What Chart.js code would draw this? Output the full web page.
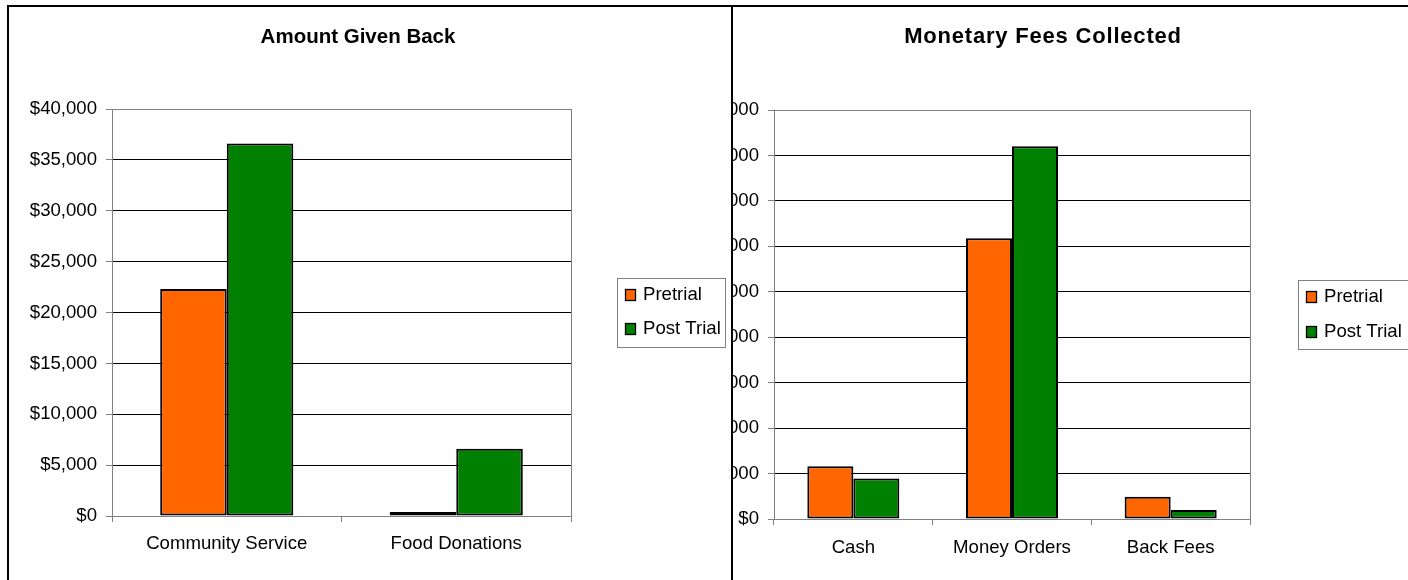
<!DOCTYPE html>
<html>
<head>
<meta charset="utf-8">
<script src="https://cdn.jsdelivr.net/npm/chart.js@4"></script>
<style>
  html, body { margin: 0; padding: 0; background: #fff; }
  body { width: 1408px; height: 580px; position: relative; overflow: hidden; }
  #leftWrap { position: absolute; left: 0; top: 0; width: 731px; height: 580px; overflow: hidden; }
  #rightWrap { position: absolute; left: 733px; top: 0; width: 675px; height: 580px; overflow: hidden; }
  #leftChart { position: absolute; left: 0; top: 0; }
  #rightChart { position: absolute; left: -53px; top: 0; }
  .line { position: absolute; background: #000; z-index: 5; }
</style>
</head>
<body>
<div id="leftWrap"><canvas id="leftChart" width="731" height="580"></canvas></div>
<div id="rightWrap"><canvas id="rightChart" width="728" height="580"></canvas></div>
<div class="line" style="left:7px; top:5px; width:1401px; height:2px;"></div>
<div class="line" style="left:7px; top:5px; width:2px; height:575px;"></div>
<div class="line" style="left:731px; top:5px; width:2px; height:575px;"></div>
<script>
// Amount Given Back
const givenCategories = ['Community Service', 'Food Donations'];
const givenPretrial = [22300, 400];
const givenPostTrial = [36600, 6600];
const givenMax = 40000;
const givenStep = 5000;

// Monetary Fees Collected
const feesCategories = ['Cash', 'Money Orders', 'Back Fees'];
const feesPretrial = [1160, 6180, 490];
const feesPostTrial = [890, 8200, 200];
const feesMax = 9000;
const feesStep = 1000;

const seriesNames = ['Pretrial', 'Post Trial'];
const seriesColors = ['#FF6600', '#008000'];

const FONT = '"Liberation Sans", Arial, sans-serif';
const TEXT_SIZE = 18.6;
Chart.defaults.font.family = FONT;
Chart.defaults.color = '#000';

// titre, bordure droite et légende encadrée
const panelDecor = {
    id: 'panelDecor',
    afterDraw(chart, args, opts) {
        const ctx = chart.ctx;
        const a = chart.chartArea;
        ctx.save();
        ctx.strokeStyle = '#808080';
        ctx.lineWidth = 1;
        const rx = Math.round(a.right) + 0.5;
        ctx.beginPath();
        ctx.moveTo(rx, a.top);
        ctx.lineTo(rx, a.bottom);
        ctx.stroke();

        ctx.fillStyle = '#000';
        ctx.font = 'bold ' + opts.titleSize + 'px ' + FONT;
        ctx.textAlign = 'center';
        ctx.textBaseline = 'middle';
        ctx.letterSpacing = opts.titleSpacing + 'px';
        ctx.fillText(opts.title, opts.titleX, opts.titleY);
        ctx.letterSpacing = '0px';

        // légende
        const lg = opts.legend;
        ctx.strokeStyle = '#808080';
        ctx.strokeRect(lg.x + 0.5, lg.y + 0.5, lg.w, lg.h);
        ctx.font = TEXT_SIZE + 'px ' + FONT;
        ctx.textAlign = 'left';
        chart.data.datasets.forEach((ds, i) => {
            const cy = lg.y + lg.firstRow + i * lg.rowGap;
            ctx.fillStyle = ds.backgroundColor;
            ctx.fillRect(lg.x + 8, cy - 6, 11, 12);
            ctx.strokeStyle = '#000';
            ctx.lineWidth = 1.3;
            ctx.strokeRect(lg.x + 8.5, cy - 5.5, 10, 11);
            ctx.fillStyle = '#000';
            ctx.fillText(ds.label, lg.x + 26, cy);
        });
        ctx.restore();
    }
};

function moneyLabel(v) {
    return '$' + Number(v).toLocaleString('en-US');
}

function buildChart(canvasId, categories, pretrial, postTrial, max, step, layout, decor) {
    const ctx = document.getElementById(canvasId).getContext('2d');
    return new Chart(ctx, {
        type: 'bar',
        data: {
            labels: categories,
            datasets: [
                {
                    label: seriesNames[0],
                    data: pretrial,
                    backgroundColor: seriesColors[0],
                    borderColor: '#000',
                    borderWidth: 2,
                    borderSkipped: false
                },
                {
                    label: seriesNames[1],
                    data: postTrial,
                    backgroundColor: seriesColors[1],
                    borderColor: '#000',
                    borderWidth: 2,
                    borderSkipped: false
                }
            ]
        },
        options: {
            responsive: false,
            animation: false,
            events: [],
            layout: { padding: { left: 0, top: layout.top, right: layout.right, bottom: 0 } },
            datasets: { bar: { categoryPercentage: 0.58, barPercentage: 1 } },
            plugins: {
                legend: { display: false },
                title: { display: false },
                tooltip: { enabled: false },
                panelDecor: decor
            },
            scales: {
                x: {
                    offset: true,
                    grid: {
                        offset: true,
                        drawOnChartArea: false,
                        drawTicks: true,
                        tickLength: 6,
                        tickColor: '#808080'
                    },
                    border: { color: '#808080', width: 1 },
                    ticks: { font: { size: TEXT_SIZE }, color: '#000', padding: layout.xPad, maxRotation: 0 },
                    afterFit: s => { s.height = layout.xHeight; }
                },
                y: {
                    min: 0,
                    max: max,
                    grid: {
                        color: c => (c.tick && (c.tick.value === max || c.tick.value === 0)) ? '#808080' : '#000',
                        tickLength: 6,
                        tickColor: '#808080'
                    },
                    border: { color: '#808080', width: 1 },
                    ticks: {
                        stepSize: step,
                        font: { size: TEXT_SIZE },
                        color: '#000',
                        padding: 9,
                        callback: moneyLabel
                    },
                    afterFit: s => { s.width = layout.yWidth; }
                }
            }
        },
        plugins: [panelDecor]
    });
}

buildChart('leftChart', givenCategories, givenPretrial, givenPostTrial, givenMax, givenStep,
    { top: 109, right: 731 - 571, xHeight: 580 - 516, yWidth: 112, xPad: 11 },
    { title: 'Amount Given Back', titleSize: 20.5, titleX: 358, titleY: 37, titleSpacing: 0,
      legend: { x: 617, y: 278, w: 108, h: 69, firstRow: 17, rowGap: 34 } });

buildChart('rightChart', feesCategories, feesPretrial, feesPostTrial, feesMax, feesStep,
    { top: 110, right: 1408 - 1250, xHeight: 580 - 519, yWidth: 774 - 680, xPad: 12 },
    { title: 'Monetary Fees Collected', titleSize: 22, titleX: 1043 - 680, titleY: 37, titleSpacing: 0.8,
      legend: { x: 1298 - 680, y: 280, w: 112, h: 69, firstRow: 17, rowGap: 35 } });
</script>
</body>
</html>
